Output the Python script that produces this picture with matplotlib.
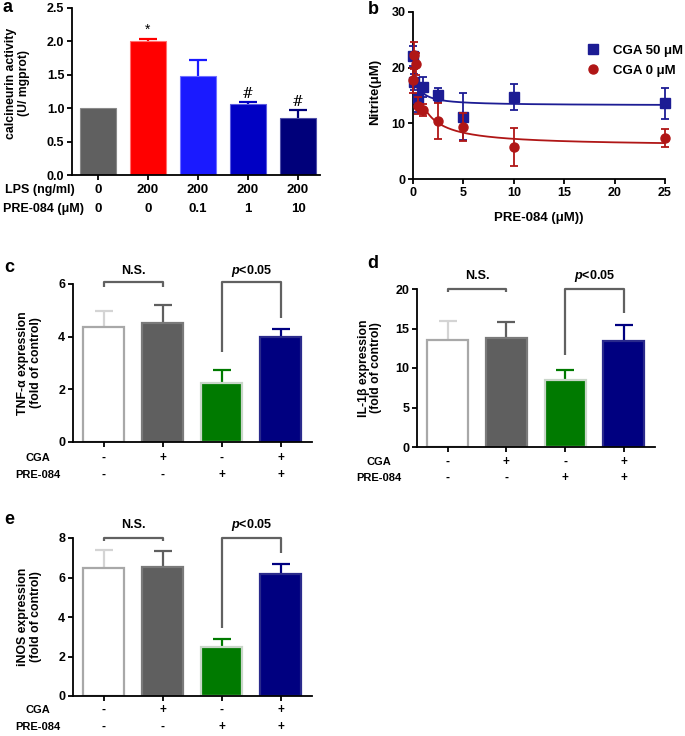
import numpy as np
import matplotlib
matplotlib.use("Agg")
import matplotlib.pyplot as plt
from matplotlib.lines import Line2D
from matplotlib.transforms import blended_transform_factory

plt.rcParams["font.family"] = ["Liberation Sans", "DejaVu Sans"]
plt.rcParams["font.weight"] = "bold"
plt.rcParams["axes.labelweight"] = "bold"
plt.rcParams["mathtext.fontset"] = "custom"
plt.rcParams["mathtext.it"] = "Liberation Sans:italic:bold"
plt.rcParams["mathtext.rm"] = "Liberation Sans:bold"

# ---- panel a: calcineurin activity ----
a_lps = ["0", "200", "200", "200", "200"]
a_pre = ["0", "0", "0.1", "1", "10"]
a_vals = [1.0, 2.0, 1.48, 1.06, 0.85]
a_err = [0.0, 0.04, 0.235, 0.03, 0.125]
a_colors = ["#606060", "#ff0000", "#1a1aff", "#0000c4", "#00007a"]
a_marks = ["", "*", "", "#", "#"]
a_mark_y = [None, 2.17, None, 1.22, 1.09]

# ---- panel b: nitrite vs PRE-084 ----
b_x_cga50 = [0, 0.1, 0.5, 1, 2.5, 5, 10, 25]
b_y_cga50 = [22.1, 17.4, 14.5, 16.5, 15.1, 11.2, 14.7, 13.6]
b_e_cga50 = [1.8, 1.5, 2.4, 1.8, 1.2, 4.2, 2.3, 2.8]
b_x_cga0 = [0, 0.1, 0.25, 0.5, 1, 2.5, 5, 10, 25]
b_y_cga0 = [17.7, 22.2, 20.6, 13.2, 12.4, 10.4, 9.3, 5.8, 7.3]
b_e_cga0 = [2.2, 2.4, 2.0, 1.5, 1.0, 3.3, 2.5, 3.4, 1.6]
# hyperbolic decay fits: bottom, span, half-dose
b_fit_cga50 = (13.2, 9.6, 0.31)
b_fit_cga0 = (5.9, 15.1, 0.95)

# ---- panels c/d/e: cytokine expression ----
cga_row = ["-", "+", "-", "+"]
pre_row = ["-", "-", "+", "+"]
grp_face = ["white", "#5f5f5f", "#007a00", "#000080"]
grp_edge = ["#a8a8a8", "#7a7a7a", "#c9d6c9", "#2a2a8c"]
grp_ecol = ["#d4d4d4", "#5f5f5f", "#007a00", "#000080"]

tnf_vals = [4.35, 4.53, 2.25, 3.98]
tnf_err = [0.63, 0.68, 0.48, 0.32]
il1b_vals = [13.5, 13.8, 8.5, 13.4]
il1b_err = [2.4, 2.0, 1.3, 2.0]
inos_vals = [6.5, 6.52, 2.47, 6.18]
inos_err = [0.91, 0.84, 0.41, 0.5]

fig = plt.figure(figsize=(6.85, 7.36), dpi=100)
W, H = 685.0, 736.0


def rect(x0, y0, x1, y1):
    return [x0 / W, 1 - y1 / H, (x1 - x0) / W, (y1 - y0) / H]


def style_axes(ax):
    for s in ["top", "right"]:
        ax.spines[s].set_visible(False)
    for s in ["left", "bottom"]:
        ax.spines[s].set_linewidth(1.3)
    ax.tick_params(width=1.3, length=3.5, labelsize=9, pad=2)


def upper_err(ax, x, y, e, colors, cap=6.5):
    for xi, yi, ei, c in zip(x, y, e, colors):
        if ei <= 0:
            continue
        eb = ax.errorbar([xi], [yi], yerr=[[0], [ei]], fmt="none", ecolor=c,
                         elinewidth=1.6, capsize=cap, capthick=1.6, zorder=1)
        eb[1][0].set_visible(False)


# panel a
ax = fig.add_axes(rect(72, 8, 320, 175))
style_axes(ax)
xa = np.arange(len(a_vals))
upper_err(ax, xa, a_vals, a_err, a_colors)
edge_a = ["#8a8a8a", "#ff7070", "#7070ff", "#5a5ae0", "#5050a8"]
ax.bar(xa, a_vals, width=0.72, color=a_colors, edgecolor=edge_a, linewidth=0.8, zorder=2)
for xi, m, my in zip(xa, a_marks, a_mark_y):
    if m:
        ax.text(xi, my, m, ha="center", va="center", fontsize=10, fontweight="normal",
                family=["DejaVu Serif"] if m == "#" else None)
ax.set_xlim(-0.52, 4.44)
ax.set_ylim(0, 2.5)
ax.set_yticks(np.arange(0, 2.51, 0.5))
ax.set_yticklabels([f"{v:.1f}" for v in np.arange(0, 2.51, 0.5)])
ax.set_xticks(xa)
ax.set_xticklabels([])
ax.set_ylabel("calcineurin activity\n(U/ mgprot)", fontsize=8.8, linespacing=1.1)
ax.yaxis.set_label_coords(-0.17, 0.55)
tr = blended_transform_factory(ax.transData, ax.transAxes)
for xi, l1, l2 in zip(xa, a_lps, a_pre):
    ax.text(xi, -0.09, l1, transform=tr, ha="center", va="center", fontsize=9.5)
    ax.text(xi, -0.205, l2, transform=tr, ha="center", va="center", fontsize=9.5)
ax.text(-0.27, -0.09, "LPS (ng/ml)", transform=ax.transAxes, ha="left", va="center", fontsize=9)
ax.text(-0.28, -0.205, "PRE-084 (μM)", transform=ax.transAxes, ha="left", va="center", fontsize=9)

# panel b
ax = fig.add_axes(rect(413, 12, 665, 179))
style_axes(ax)
blue, red = "#1c1c94", "#b01616"
xs = np.linspace(0, 25, 600)
for fit, c in [(b_fit_cga50, blue), (b_fit_cga0, red)]:
    bot, span, half = fit
    ax.plot(xs, bot + span / (1 + xs / half), color=c, lw=1.3, zorder=2)
ax.errorbar(b_x_cga50, b_y_cga50, yerr=b_e_cga50, fmt="s", color=blue, ms=6.5,
            elinewidth=1.3, capsize=2.8, capthick=1.3, clip_on=False, zorder=3)
ax.errorbar(b_x_cga0, b_y_cga0, yerr=b_e_cga0, fmt="o", color=red, ms=6.5,
            elinewidth=1.3, capsize=2.8, capthick=1.3, clip_on=False, zorder=4)
ax.set_xlim(0, 25)
ax.set_ylim(0, 30)
ax.set_xticks([0, 5, 10, 15, 20, 25])
ax.set_yticks([0, 10, 20, 30])
ax.set_ylabel("Nitrite(μM)", fontsize=9.5)
ax.yaxis.set_label_coords(-0.125, 0.52)
ax.set_xlabel("PRE-084 (μM))", fontsize=9.5)
ax.xaxis.set_label_coords(0.5, -0.2)
handles = [Line2D([], [], marker="s", color=blue, ls="none", ms=6.5),
           Line2D([], [], marker="o", color=red, ls="none", ms=6.5)]
ax.legend(handles, ["CGA 50 μM", "CGA 0 μM"], loc="upper left", frameon=False,
          bbox_to_anchor=(575 / W, 1 - 33 / H), bbox_transform=fig.transFigure,
          prop={"size": 9.5, "weight": "bold"}, handlelength=1.0, handletextpad=1.0,
          labelspacing=0.55)


def expr_panel(box, vals, errs, ylim, yticks, ylabel, ns_y, ns_leg, p_left, p_right, txt_y, rows_y, rows_x):
    ax = fig.add_axes(rect(*box))
    style_axes(ax)
    x = np.arange(len(vals))
    upper_err(ax, x, vals, errs, grp_ecol)
    ax.bar(x, vals, width=0.7, color=grp_face, edgecolor=grp_edge, linewidth=1.6, zorder=2)
    ax.set_xlim(-0.52, 3.53)
    ax.set_ylim(*ylim)
    ax.set_yticks(yticks)
    ax.set_xticks(x)
    ax.set_xticklabels([])
    ax.set_ylabel(ylabel, fontsize=8.8, linespacing=1.1)
    ax.yaxis.set_label_coords(rows_x + 0.015, 0.5)
    bc = "#616161"
    kw = dict(color=bc, lw=1.6, clip_on=False, solid_capstyle="butt")
    ax.plot([x[0], x[0], x[1], x[1]], [ns_leg, ns_y, ns_y, ns_leg], **kw)
    ax.plot([x[2], x[2], x[3], x[3]], [p_left, ns_y, ns_y, p_right], **kw)
    ax.text((x[0] + x[1]) / 2, txt_y, "N.S.", ha="center", va="center", fontsize=9)
    ax.text((x[2] + x[3]) / 2, txt_y, r"$\it{p}$<0.05", ha="center", va="center", fontsize=9)
    tr = blended_transform_factory(ax.transData, ax.transAxes)
    for xi, c1, c2 in zip(x, cga_row, pre_row):
        ax.text(xi, rows_y[0], c1, transform=tr, ha="center", va="center", fontsize=8.5)
        ax.text(xi, rows_y[1], c2, transform=tr, ha="center", va="center", fontsize=8.5)
    ax.text(rows_x, rows_y[0], "CGA", transform=ax.transAxes, ha="center", va="center", fontsize=8)
    ax.text(rows_x, rows_y[1], "PRE-084", transform=ax.transAxes, ha="center", va="center", fontsize=8)
    return ax


expr_panel((73, 284, 312, 442), tnf_vals, tnf_err, (0, 6), [0, 2, 4, 6],
           "TNF-α expression\n(fold of control)", 6.08, 5.9, 3.43, 4.70, 6.48,
           (-0.10, -0.21), -0.146)
expr_panel((417, 289, 655, 447), il1b_vals, il1b_err, (0, 20), [0, 5, 10, 15, 20],
           "IL-1β expression\n(fold of control)", 20.0, 19.6, 11.7, 16.96, 21.6,
           (-0.095, -0.196), -0.16)
expr_panel((73, 538, 312, 696), inos_vals, inos_err, (0, 8), [0, 2, 4, 6, 8],
           "iNOS expression\n(fold of control)", 8.0, 7.83, 3.42, 7.24, 8.68,
           (-0.089, -0.196), -0.146)

for lab, px, py in [("a", 8, 7), ("b", 373, 10), ("c", 9, 268), ("d", 373, 263), ("e", 9, 519)]:
    fig.text(px / W, 1 - py / H, lab, ha="center", va="center", fontsize=13, fontweight="bold")

fig.savefig("out.png", dpi=100)
